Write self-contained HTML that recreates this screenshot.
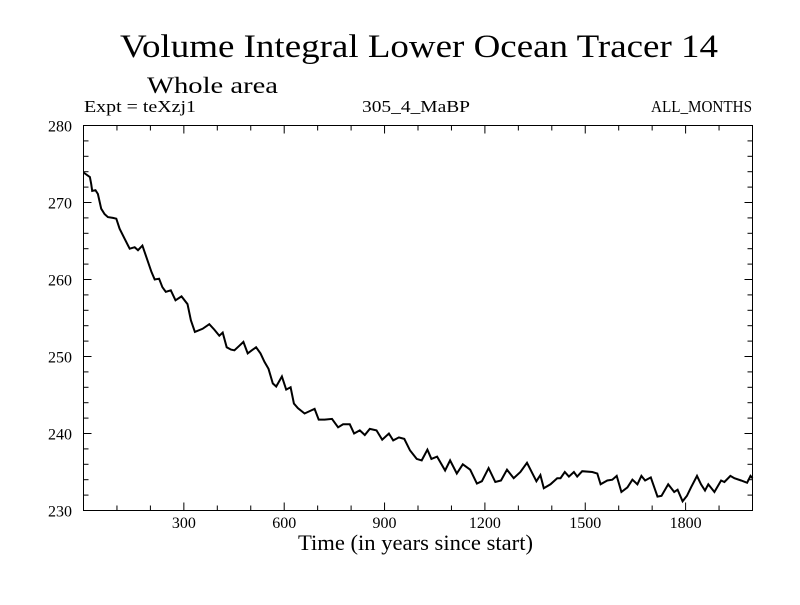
<!DOCTYPE html>
<html><head><meta charset="utf-8"><style>
body{margin:0;background:#fff;}
svg text{font-family:"Liberation Serif",serif;fill:#000;}
</style></head><body>
<svg id="c" width="800" height="600" xmlns="http://www.w3.org/2000/svg">
<text x="120" y="57" font-size="33" textLength="598" lengthAdjust="spacingAndGlyphs">Volume Integral Lower Ocean Tracer 14</text>
<text x="147" y="93" font-size="23" textLength="131" lengthAdjust="spacingAndGlyphs">Whole area</text>
<text x="84" y="112" font-size="17" textLength="112" lengthAdjust="spacingAndGlyphs">Expt = teXzj1</text>
<text x="362" y="112" font-size="17" textLength="108" lengthAdjust="spacingAndGlyphs">305_4_MaBP</text>
<text x="651" y="112" font-size="17" textLength="101" lengthAdjust="spacingAndGlyphs">ALL_MONTHS</text>
<text x="298" y="550" font-size="22" textLength="235" lengthAdjust="spacingAndGlyphs">Time (in years since start)</text>
<g id="axes"></g>
<path id="line" fill="none" stroke="#000" stroke-width="2"/>
<rect x="83.5" y="125.5" width="669" height="385" fill="none" stroke="#000" stroke-width="1"/>
</svg>
<script>
const years=[0,19,23,26,36,43,53,63,73,88,98,108,123,138,153,163,176,188,203,213,226,236,246,261,275,293,311,321,333,356,376,391,406,416,428,441,451,466,478,491,503,516,529,541,553,566,576,593,606,619,629,641,661,681,691,703,721,743,761,776,796,809,826,841,856,876,893,913,926,943,959,976,996,1011,1028,1040,1057,1081,1096,1116,1134,1156,1176,1191,1211,1231,1248,1266,1286,1306,1326,1346,1354,1366,1376,1396,1416,1426,1439,1451,1466,1476,1491,1521,1536,1546,1566,1581,1594,1608,1626,1641,1656,1668,1679,1696,1716,1728,1748,1766,1776,1791,1804,1816,1834,1846,1858,1868,1886,1906,1916,1934,1946,1966,1984,1994,2000];
const values=[273.9,273.3,272.4,271.5,271.6,271.1,269.2,268.5,268.1,268.0,267.9,266.6,265.3,264.0,264.2,263.8,264.4,262.9,261.0,260.0,260.1,259.0,258.4,258.6,257.3,257.8,256.8,254.7,253.2,253.6,254.2,253.5,252.7,253.1,251.2,250.9,250.8,251.4,251.9,250.4,250.8,251.2,250.4,249.3,248.4,246.5,246.1,247.4,245.7,246.0,243.9,243.3,242.6,243.0,243.2,241.8,241.8,241.9,240.8,241.2,241.2,240.0,240.4,239.8,240.6,240.4,239.2,240.0,239.1,239.5,239.3,237.8,236.7,236.5,237.9,236.7,237.0,235.2,236.5,234.8,236.0,235.3,233.5,233.8,235.5,233.7,233.9,235.3,234.2,235.0,236.2,234.5,233.8,234.6,232.9,233.4,234.2,234.2,235.0,234.4,235.0,234.4,235.1,235.0,234.8,233.4,233.9,234.0,234.5,232.4,233.0,234.0,233.4,234.5,233.9,234.3,231.8,231.9,233.4,232.4,232.7,231.2,231.9,233.0,234.5,233.4,232.6,233.4,232.4,233.9,233.7,234.5,234.2,233.9,233.6,234.5,234.2];
const xTicks=[300,600,900,1200,1500,1800];
const yTicks=[230,240,250,260,270,280];
const X0=83.5,X1=752.5,Y0=510.5,Y1=125.5,XMIN=0,XMAX=2000,YMIN=230,YMAX=280;
const sx=v=>X0+(v-XMIN)/(XMAX-XMIN)*(X1-X0);
const sy=v=>Y0-(v-YMIN)/(YMAX-YMIN)*(Y0-Y1);
const NS="http://www.w3.org/2000/svg";
document.getElementById('line').setAttribute('d',years.map((y,i)=>(i?'L':'M')+sx(y).toFixed(1)+','+sy(values[i]).toFixed(1)).join(''));
const g=document.getElementById('axes');
function ln(x1,y1,x2,y2){const l=document.createElementNS(NS,'line');l.setAttribute('x1',x1);l.setAttribute('y1',y1);l.setAttribute('x2',x2);l.setAttribute('y2',y2);l.setAttribute('stroke','#000');l.setAttribute('stroke-width','1');


g.appendChild(l);}
function tx(x,y,s,a,name){const t=document.createElementNS(NS,'text');t.setAttribute('x',x);t.setAttribute('y',y);t.setAttribute('font-size','16');t.setAttribute('text-anchor',a);t.textContent=s;


g.appendChild(t);}
for(let v=100;v<XMAX;v+=100){const x=sx(v);const L=(v%300===0)?8:5;ln(x,Y0,x,Y0-L);ln(x,Y1,x,Y1+L);}
for(let v=YMIN+2;v<YMAX;v+=2){const y=sy(v);const L=(v%10===0)?8:5;ln(X0,y,X0+L,y);ln(X1,y,X1-L,y);}
xTicks.forEach(v=>tx(sx(v),528,String(v),'middle','x-tick-label'));
yTicks.forEach(v=>tx(72,sy(v)+6,String(v),'end','y-tick-label'));
</script>
</body></html>
